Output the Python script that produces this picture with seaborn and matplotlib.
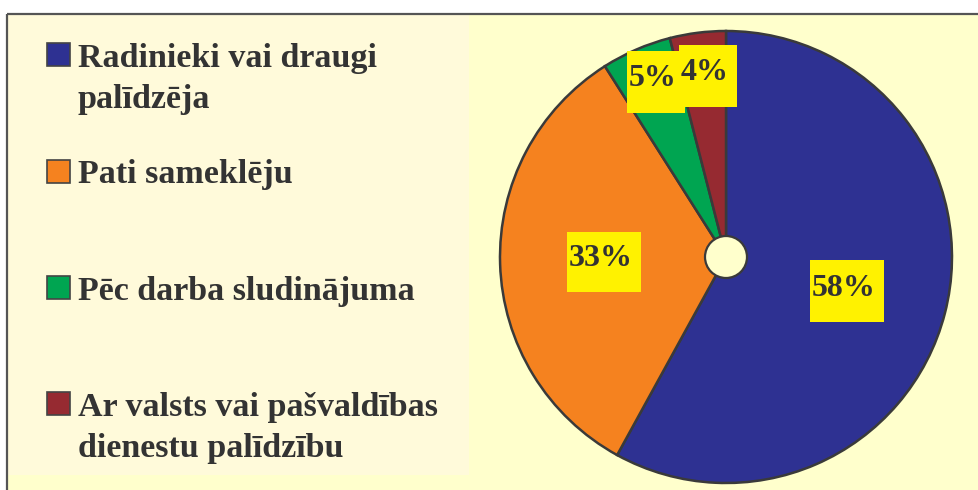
import matplotlib
matplotlib.use("Agg")
import matplotlib.pyplot as plt
import seaborn as sns
from matplotlib.patches import Rectangle, Circle

# ---- data ----
categories = ["Radinieki vai draugi\npalīdzēja",
              "Pati sameklēju",
              "Pēc darba sludinājuma",
              "Ar valsts vai pašvaldības\ndienestu palīdzību"]
values = [58, 33, 5, 4]
pct_labels = ["58%", "33%", "5%", "4%"]
colors = ["#2E3192", "#F5821F", "#00A551", "#962A31"]

sns.set_theme(style="white")
plt.rcParams['font.family'] = ['Liberation Serif', 'DejaVu Serif']

W, H = 979, 490
fig = plt.figure(figsize=(W / 100, H / 100), dpi=100)
fig.patch.set_facecolor("white")
ax = fig.add_axes([0, 0, 1, 1])

OUTER = "#FFFFCC"
INNER = "#FFFADA"
EDGE = "#3A3A3A"
TXT = "#333333"

def Y(y):
    return H - y

# backgrounds
ax.add_patch(Rectangle((7, 0), W - 7, Y(14), facecolor=OUTER, edgecolor="none", zorder=0))
ax.add_patch(Rectangle((8, Y(475)), 461, 475 - 15, facecolor=INNER, edgecolor="none", zorder=0.5))
# frame lines (top and left)
ax.plot([7, W], [Y(14), Y(14)], color="#555555", lw=1.6, zorder=1, solid_capstyle="butt")
ax.plot([7, 7], [Y(14), 0], color="#555555", lw=1.6, zorder=1, solid_capstyle="butt")

# pie
cx, cy, r = 726, Y(257), 226
wedges, _ = ax.pie(values, colors=sns.color_palette(colors), startangle=90,
                   counterclock=False, center=(cx, cy), radius=r,
                   wedgeprops=dict(edgecolor=EDGE, linewidth=1.8), frame=True)
for w in wedges:
    w.set_zorder(2)
ax.add_patch(Circle((cx, cy), 21, facecolor=OUTER, edgecolor=EDGE, lw=1.6, zorder=3))

# percentage label boxes (x0, y0, w, h in pixels from top-left) and text centres
label_boxes = [(810, 260, 74, 62), (567, 232, 74, 60), (627, 51, 58, 62), (679, 45, 58, 62)]
label_text = [(844, 289), (601, 259), (653, 79), (705, 73)]
for k, (txt, (x0, y0, bw, bh), (tx, ty)) in enumerate(zip(pct_labels, label_boxes, label_text)):
    ax.add_patch(Rectangle((x0, Y(y0 + bh)), bw, bh, facecolor="#FFF200",
                           edgecolor="none", zorder=5 + k))
    ax.text(tx, Y(ty), txt, ha="center", va="center", fontsize=23, fontweight="bold",
            color=TXT, zorder=5.5 + k)

# legend (manual)
for i, (lab, col) in enumerate(zip(categories, colors)):
    base = 67 + 116.3 * i
    ax.add_patch(Rectangle((47, Y(base - 0.5)), 23, 23, facecolor=col,
                           edgecolor="#444444", lw=1.2, zorder=4))
    for j, line in enumerate(lab.split("\n")):
        ax.text(78, Y(base + 41 * j), line, ha="left", va="baseline", fontsize=24.5,
                fontweight="bold", color=TXT, zorder=5)

ax.set_xlim(0, W)
ax.set_ylim(0, H)
ax.set_aspect("auto")
ax.axis("off")

fig.savefig("out.png", dpi=100, facecolor="white")
